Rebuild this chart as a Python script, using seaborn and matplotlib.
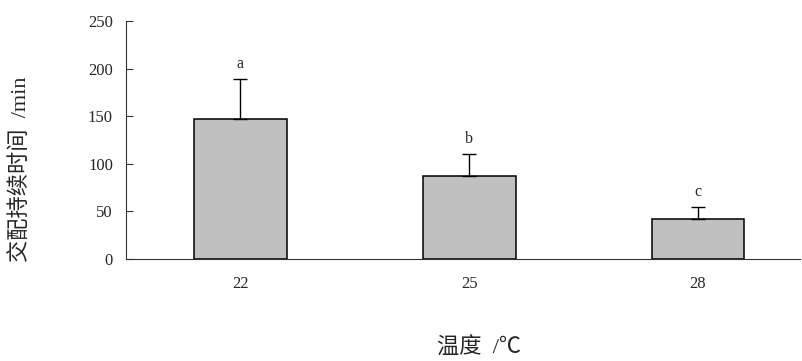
import numpy as np
import pandas as pd
import matplotlib
matplotlib.use("Agg")
import matplotlib.pyplot as plt
import seaborn as sns

# data
temps = ["22", "25", "28"]
means = [147, 87, 42]
se = [42, 23, 13]
letters = ["a", "b", "c"]

sns.set_style("ticks")
plt.rcParams['font.family'] = ['Liberation Serif', 'Noto Sans CJK SC', 'DejaVu Sans']

df = pd.DataFrame({"temp": temps, "dur": means})

fig = plt.figure(figsize=(8.03, 3.61), dpi=100)
ax = fig.add_axes([0.157, 0.2825, 0.839, 0.6595])

sns.barplot(data=df, x="temp", y="dur", color="#c0c0c0", edgecolor="black",
            linewidth=1.1, width=0.406, saturation=1, ax=ax)
pos = np.arange(len(temps))
ax.errorbar(pos, means, yerr=[np.zeros(len(se)), se], fmt="none",
            ecolor="black", elinewidth=1.0, capsize=4.7, capthick=1.0)

for x, m, s, l in zip(pos, means, se, letters):
    ax.annotate(l, (x, m + s), xytext=(0, 5), textcoords="offset points",
                ha="center", va="bottom", fontsize=11.5)

ax.set_ylim(0, 250)
ax.set_yticks(range(0, 251, 50))
ax.set_xlim(-0.5, 2.445)

for sp in ["top", "right"]:
    ax.spines[sp].set_visible(False)
ax.spines["left"].set_color("#333333")
ax.spines["bottom"].set_color("#333333")
ax.tick_params(axis="y", direction="in", length=5, labelsize=12, pad=9.5, color="#333333")
ax.tick_params(axis="x", length=0, labelsize=12, pad=12.5)

ax.set_xlabel("")
ax.set_ylabel("")
fig.text(0.027, 0.532, "交配持续时间  /min", rotation=90, ha="center", va="center",
         fontsize=16)
fig.text(0.597, 0.036, "温度  /℃", ha="center", va="center", fontsize=16)

fig.savefig("out.png", dpi=100)
